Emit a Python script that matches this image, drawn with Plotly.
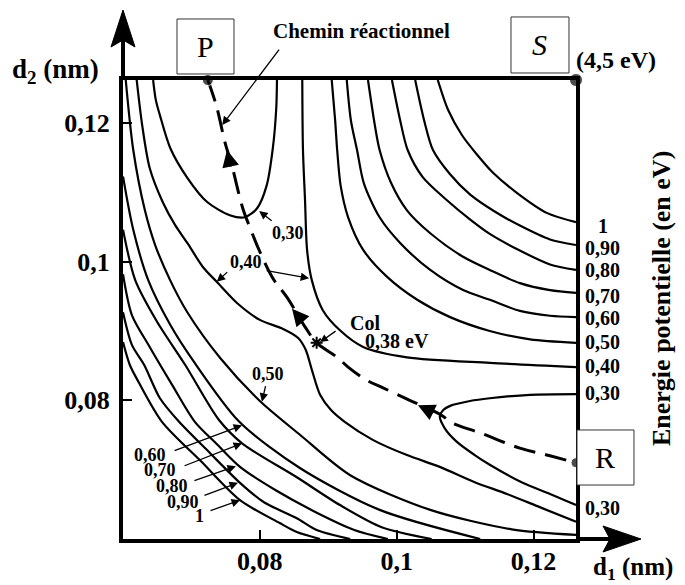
import numpy as np
import plotly.graph_objects as go

# ---------------- data (distances in picometres, converted to nm below) ----------------
# Iso-energy curves around S (d1 and d2 large)
iso100_S_d1 = [106.0, 107.5, 109.5, 111.6, 114.0, 117.6, 122.0, 126.2]
iso100_S_d2 = [126.2, 121.9, 118.3, 115.6, 112.9, 109.9, 107.0, 105.7]
iso090_S_d1 = [102.7, 104.0, 105.3, 107.8, 110.7, 114.2, 118.0, 122.4, 126.2]
iso090_S_d2 = [126.2, 120.4, 116.1, 112.6, 109.7, 107.3, 105.2, 103.2, 102.4]
iso080_S_d1 = [99.3, 100.5, 101.6, 103.8, 107.3, 110.7, 113.6, 118.0, 122.4, 126.2]
iso080_S_d2 = [126.2, 120.4, 116.1, 112.2, 108.9, 106.1, 104.0, 101.6, 99.6, 98.8]
iso070_S_d1 = [95.8, 96.8, 97.5, 99.2, 101.5, 104.9, 109.7, 113.6, 118.0, 122.4, 126.2]
iso070_S_d2 = [126.2, 119.7, 116.1, 111.3, 107.4, 104.1, 100.7, 98.8, 96.9, 95.9, 95.5]
iso060_S_d1 = [92.7, 93.3, 94.2, 95.2, 97.5, 100.5, 104.9, 109.7, 113.6, 118.0, 122.4, 126.2]
iso060_S_d2 = [126.2, 120.4, 116.1, 111.3, 106.4, 102.7, 98.8, 95.9, 94.5, 92.9, 92.2, 92.0]
iso050_S_d1 = [90.5, 91.0, 91.3, 91.8, 92.9, 95.1, 98.6, 103.0, 107.8, 113.6, 119.5, 126.2]
iso050_S_d2 = [126.2, 120.4, 116.1, 111.0, 106.4, 101.7, 97.8, 94.5, 92.0, 90.0, 88.8, 88.3]
iso040_col_d1 = [86.2, 86.3, 86.6, 86.9, 87.6, 89.2, 91.7, 95.1, 101.5, 113.6, 126.2]
iso040_col_d2 = [126.2, 116.1, 108.9, 101.7, 97.3, 93.0, 90.1, 87.7, 86.2, 85.4, 84.8]

# Valleys P and R (0,30 eV)
iso030_P_d1 = [64.4, 64.8, 65.4, 66.9, 69.4, 72.3, 75.6, 77.8, 79.6, 81.0, 81.9, 82.4, 82.5]
iso030_P_d2 = [126.2, 123.3, 121.1, 116.4, 112.1, 108.6, 106.7, 106.4, 107.7, 111.0, 116.4, 122.2, 126.2]
iso030_R_d1 = [126.2, 119.5, 113.6, 110.7, 107.8, 106.8, 106.3, 107.0, 108.8, 111.4, 113.6, 118.4, 122.4, 126.2]
iso030_R_d2 = [80.9, 80.8, 80.3, 79.9, 79.2, 78.6, 77.7, 76.0, 74.0, 72.1, 70.7, 68.1, 66.5, 64.9]

# 0,40 eV curve on the compressed side of the col
iso040_low_d1 = [62.0, 62.8, 63.9, 65.8, 67.6, 69.4, 71.7, 73.7, 76.7, 80.0, 83.4, 85.6,
                 86.7, 87.6, 88.8, 90.4, 92.4, 96.5, 101.5, 106.3, 111.4, 116.1, 120.9, 126.2]
iso040_low_d2 = [126.2, 119.7, 113.5, 108.6, 105.3, 102.7, 99.2, 97.1, 94.0, 91.6, 90.3, 89.0,
                 87.3, 84.4, 80.8, 78.6, 76.9, 74.3, 72.1, 70.4, 68.2, 66.5, 64.6, 62.5]

# Repulsive wall (d1 and d2 small)
iso050_W_d1 = [60.4, 61.5, 63.2, 64.7, 66.9, 69.4, 74.2, 80.0, 85.9, 93.2, 104.9, 116.8, 126.2]
iso050_W_d2 = [126.2, 116.1, 107.4, 102.4, 97.3, 92.7, 86.1, 79.9, 75.0, 69.2, 64.2, 61.4, 60.6]
iso060_W_d1 = [60.0, 61.5, 63.7, 66.9, 70.2, 77.0, 85.9, 97.5, 112.2]
iso060_W_d2 = [112.3, 104.6, 97.3, 90.9, 85.8, 76.9, 70.2, 64.2, 60.0]
iso070_W_d1 = [60.0, 61.8, 65.0, 69.1, 74.0, 77.4, 85.4, 91.7, 97.8, 105.1]
iso070_W_d2 = [104.6, 97.3, 91.3, 85.1, 77.2, 73.8, 68.9, 64.9, 61.7, 60.0]
iso080_W_d1 = [60.0, 61.3, 63.9, 67.2, 70.5, 73.7, 77.1, 82.2, 88.1, 93.8, 98.7]
iso080_W_d2 = [98.2, 92.3, 87.7, 82.2, 76.9, 73.7, 70.4, 67.1, 63.9, 61.3, 60.0]
iso090_W_d1 = [60.0, 61.3, 63.1, 65.4, 68.2, 72.6, 77.1, 80.6, 85.4, 88.3, 93.2]
iso090_W_d2 = [92.7, 88.0, 85.1, 80.3, 76.9, 72.5, 68.1, 65.3, 63.0, 61.3, 60.0]
iso100_W_d1 = [60.0, 61.0, 62.3, 65.7, 71.4, 77.1, 82.9, 85.4, 88.8]
iso100_W_d2 = [88.4, 85.1, 82.6, 76.9, 71.2, 65.6, 62.3, 61.0, 60.0]

# Reaction path P -> col -> R
path_d1 = [72.4, 73.7, 74.9, 75.9, 77.5, 78.6, 79.7, 81.9, 84.0, 86.6, 88.3, 91.3, 92.9,
           95.6, 98.0, 101.9, 106.3, 108.2, 112.2, 118.0, 122.4, 126.2]
path_d2 = [126.2, 122.3, 117.2, 113.9, 107.7, 104.8, 102.1, 97.6, 94.8, 90.6, 88.3, 86.2, 84.8,
           82.9, 81.8, 80.0, 78.0, 76.7, 75.3, 73.1, 72.0, 71.0]
path_arrow_d1 = [75.2, 84.7, 103.1]
path_arrow_d2 = [116.1, 93.2, 79.3]

# Special points
point_names = ["P", "S", "R"]
point_d1 = [72.4, 126.2, 126.2]
point_d2 = [126.2, 126.2, 71.0]
col_d1 = [88.3]
col_d2 = [88.3]

# Curve labels on the right edge
right_labels = ["1", "0,90", "0,80", "0,70", "0,60", "0,50", "0,40", "0,30", "0,30"]
right_label_d2 = [105.2, 102.0, 98.8, 95.0, 91.9, 88.4, 84.9, 81.1, 64.5]

# Labels with arrows inside the plot: text position, arrow head position
inner_labels = ["0,30", "0,40", "0,50", "0,60", "0,70", "0,80", "0,90", "1"]
inner_label_d1 = [84.1, 78.0, 81.2, 63.9, 65.4, 67.2, 68.8, 71.2]
inner_label_d2 = [104.1, 99.9, 83.8, 72.1, 69.9, 67.6, 65.3, 63.3]
label_head_d1 = [79.9, 73.7, 80.3, 77.4, 77.4, 76.5, 76.8, 77.1]
label_head_d2 = [107.3, 97.1, 79.8, 76.4, 73.8, 70.5, 68.1, 65.6]
label_tail_dx = [14, 12, 4, -69, -59, -43, -35, -31]
label_tail_dy = [11, -11, -17, 26, 23, 15, 13, 11]

x_ticks = [0.08, 0.1, 0.12]
x_ticktext = ["0,08", "0,1", "0,12"]
y_ticks = [0.08, 0.1, 0.12]
y_ticktext = ["0,08", "0,1", "0,12"]

# ---------------- figure ----------------
def nm(v):
    return np.array(v) / 1000.0

SERIF = "Liberation Serif"
curves = [
    (iso100_S_d1, iso100_S_d2), (iso090_S_d1, iso090_S_d2), (iso080_S_d1, iso080_S_d2),
    (iso070_S_d1, iso070_S_d2), (iso060_S_d1, iso060_S_d2), (iso050_S_d1, iso050_S_d2),
    (iso040_col_d1, iso040_col_d2), (iso030_P_d1, iso030_P_d2), (iso030_R_d1, iso030_R_d2),
    (iso040_low_d1, iso040_low_d2), (iso050_W_d1, iso050_W_d2), (iso060_W_d1, iso060_W_d2),
    (iso070_W_d1, iso070_W_d2), (iso080_W_d1, iso080_W_d2), (iso090_W_d1, iso090_W_d2),
    (iso100_W_d1, iso100_W_d2),
]

fig = go.Figure()
for cx, cy in curves:
    fig.add_trace(go.Scatter(x=nm(cx), y=nm(cy), mode="lines",
                             line=dict(color="black", width=2.2, shape="spline", smoothing=0.8),
                             hoverinfo="skip", showlegend=False))

fig.add_trace(go.Scatter(x=nm(path_d1), y=nm(path_d2), mode="lines",
                         line=dict(color="black", width=3, dash="22px,10px", shape="spline"),
                         showlegend=False))

fig.add_trace(go.Scatter(x=nm(point_d1), y=nm(point_d2), mode="markers",
                         marker=dict(color="black", size=[11, 13, 10]),
                         cliponaxis=False, showlegend=False))
fig.add_trace(go.Scatter(x=nm(col_d1), y=nm(col_d2), mode="markers",
                         marker=dict(symbol="asterisk-open", size=10, color="black",
                                     line=dict(color="black", width=2)),
                         showlegend=False))


def label(x, y, text, size, xref="x", yref="y", angle=0):
    return dict(x=x, y=y, xref=xref, yref=yref, text=text, showarrow=False,
                xanchor="center", yanchor="middle", textangle=angle,
                font=dict(family=SERIF, size=size, color="black"))


def arrow(x, y, dx, dy, width=1.3, size=1.3):
    return dict(x=x, y=y, xref="x", yref="y", text="", showarrow=True,
                ax=dx, ay=dy, arrowhead=2, arrowsize=size, arrowwidth=width,
                arrowcolor="black")


ann = []
# arrowheads along the reaction path
for hx, hy, dx, dy in zip(path_arrow_d1, path_arrow_d2, [4, 11, 17], [18, 13, 8]):
    ann.append(arrow(hx / 1000, hy / 1000, dx, dy, width=2.6, size=1.3))
# inner labels
for t, tx, ty in zip(inner_labels, inner_label_d1, inner_label_d2):
    ann.append(label(tx / 1000, ty / 1000, "<b>%s</b>" % t, 18))
for hx, hy, dx, dy in zip(label_head_d1, label_head_d2, label_tail_dx, label_tail_dy):
    ann.append(arrow(hx / 1000, hy / 1000, dx, dy))
# second arrow of the 0,40 label
ann.append(arrow(0.0872, 0.0976, -44, -8))
# col label
ann.append(label(0.0954, 0.0911, "<b>Col</b>", 20))
ann.append(label(0.1000, 0.0886, "<b>0,38 eV</b>", 20))
ann.append(arrow(0.0888, 0.0884, 17, -12, size=1.2))
# Chemin reactionnel
ann.append(label(0.5254, 1.1068, "<b>Chemin réactionnel</b>", 21, "paper", "paper"))
ann.append(arrow(0.0745, 0.1197, 58, -77))
# right edge labels
for t, ty in zip(right_labels, right_label_d2):
    ann.append(label(1.0596, ty / 1000, "<b>%s</b>" % t, 20, "paper", "y"))
# axis titles and others
ann.append(label(-0.150, 1.0196, "<b>d<sub>2</sub> (nm)</b>", 27, "paper", "paper"))
ann.append(label(1.1258, -0.0632, "<b>d<sub>1</sub> (nm)</b>", 25, "paper", "paper"))
ann.append(label(1.0883, 1.0436, "<b>(4,5 eV)</b>", 24, "paper", "paper"))
ann.append(label(1.1876, 0.525, "<b>Energie potentielle (en eV)</b>", 26, "paper", "paper", -90))

# boxed point names
box_pos = {"P": (0.1192, 0.2450, 1.0131, 1.1329), "S": (0.8565, 0.9845, 1.0153, 1.1373),
           "R": (1.0022, 1.1280, 0.1176, 0.2375)}
shapes = []
for name in point_names:
    x0, x1, y0, y1 = box_pos[name]
    shapes.append(dict(type="rect", xref="paper", yref="paper", x0=x0, x1=x1, y0=y0, y1=y1,
                       line=dict(color="#333", width=1), fillcolor="white", layer="above"))
    ann.append(label((x0 + x1) / 2, (y0 + y1) / 2,
                     ("<i>%s</i>" % name) if name == "S" else name, 30, "paper", "paper"))

# axis arrows
shapes.append(dict(type="line", xref="paper", yref="paper", x0=0, x1=0, y0=1, y1=1.09,
                   line=dict(color="black", width=4)))
shapes.append(dict(type="path", xref="paper", yref="paper",
                   path="M 0,1.1525 L -0.0265,1.0719 L 0,1.0873 L 0.0265,1.0719 Z",
                   fillcolor="black", line=dict(color="black", width=1)))
shapes.append(dict(type="line", xref="paper", yref="paper", x0=1, x1=1.08, y0=0, y1=0,
                   line=dict(color="black", width=4)))
shapes.append(dict(type="path", xref="paper", yref="paper",
                   path="M 1.1435,0 L 1.0596,0.0283 L 1.0751,0 L 1.0596,-0.0283 Z",
                   fillcolor="black", line=dict(color="black", width=1)))

axis_common = dict(range=[0.06, 0.1262], ticks="inside", ticklen=9, tickwidth=2,
                   tickcolor="black", showline=True, linewidth=4, linecolor="black",
                   mirror=True, showgrid=False, zeroline=False, automargin=False,
                   tickfont=dict(family=SERIF, size=26, color="black"))

fig.update_layout(
    width=685, height=585,
    margin=dict(l=115, r=117, t=72, b=54),
    paper_bgcolor="white", plot_bgcolor="white",
    showlegend=False,
    annotations=ann, shapes=shapes,
    xaxis=dict(tickvals=x_ticks, ticktext=["<b>%s</b>" % t for t in x_ticktext],
               ticklabelstandoff=-4, **axis_common),
    yaxis=dict(tickvals=y_ticks, ticktext=["<b>%s</b>" % t for t in y_ticktext],
               ticklabelstandoff=4, **axis_common),
)

fig.write_html("out.html")
